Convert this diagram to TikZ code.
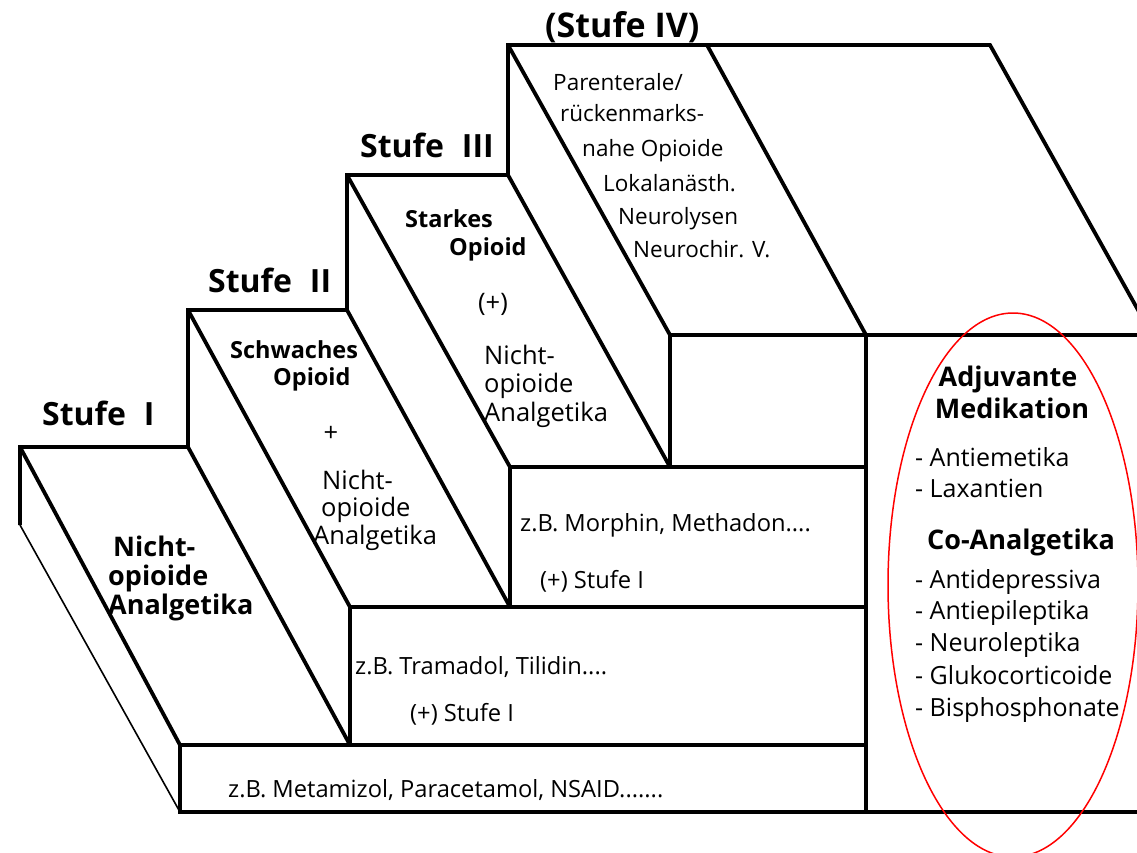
\documentclass[tikz,border=0pt]{standalone}
\usepackage{fontspec}
\setmainfont{Open Sans}
\begin{document}
\begin{tikzpicture}[x=1pt,y=-1pt,
  edge/.style={line width=3.8pt,line join=miter,line cap=butt},
  thinedge/.style={line width=1.6pt},
  head/.style={font=\fontsize{32}{36}\selectfont\bfseries,anchor=base west,inner sep=0pt},
  facebold/.style={font=\fontsize{23.5}{27}\selectfont\bfseries,anchor=base west,inner sep=0pt},
  facebig/.style={font=\fontsize{27}{31}\selectfont\bfseries,anchor=base west,inner sep=0pt},
  facetxt/.style={font=\fontsize{25.5}{29}\selectfont,anchor=base west,inner sep=0pt},
  steptxt/.style={font=\fontsize{22.5}{26}\selectfont,anchor=base west,inner sep=0pt},
  boxtxt/.style={font=\fontsize{23.7}{27}\selectfont,anchor=base west,inner sep=0pt},
  listtxt/.style={font=\fontsize{25}{29}\selectfont,anchor=base west,inner sep=0pt},
  listhead/.style={font=\fontsize{27}{31}\selectfont\bfseries,anchor=base,inner sep=0pt}]
\useasboundingbox (0,0) rectangle (1137,852);

% back profile of the staircase
\coordinate (B0) at (20,525);
\coordinate (L1) at (20,447);  \coordinate (R1) at (188,447);
\coordinate (L2) at (188,310); \coordinate (R2) at (347,310);
\coordinate (L3) at (347,175); \coordinate (R3) at (508,175);
\coordinate (L4) at (508,45);  \coordinate (R4) at (707,45);
\coordinate (T)  at (990,45);
% near profile
\coordinate (F0)  at (180,812);
\coordinate (L1f) at (180,745); \coordinate (R1f) at (350,745);
\coordinate (L2f) at (350,607); \coordinate (R2f) at (510,607);
\coordinate (L3f) at (510,467); \coordinate (R3f) at (670,467);
\coordinate (L4f) at (670,335); \coordinate (R4f) at (866,335);
\coordinate (Tf)  at (1152,335);
\coordinate (Rb)  at (866,812); \coordinate (Eb) at (1140,812);

\draw[edge] (B0) -- (L1) -- (R1) -- (L2) -- (R2) -- (L3) -- (R3) -- (L4) -- (T) -- (Tf);
\draw[thinedge] (B0) -- (F0);
\foreach \a/\b in {L1/L1f,R1/R1f,L2/L2f,R2/R2f,L3/L3f,R3/R3f,L4/L4f,R4/R4f}
  \draw[edge] (\a) -- (\b);
% front boxes
\draw[edge] (L1f) -- (F0) -- (Eb);
\draw[edge] (L1f) -- (R1f |- L1f) -- (Rb |- L1f);
\draw[edge] (R1f) -- (L2f) -- (Rb |- L2f);
\draw[edge] (R2f) -- (L3f) -- (Rb |- L3f);
\draw[edge] (R3f) -- (L4f) -- (Tf);
\draw[edge] (R4f) -- (Rb);

% step headings
\node[head] (h1) at (42,425) {Stufe\hspace{0.3em} I};
\node[head] (h2) at (208,292) {Stufe\hspace{0.3em} II};
\node[head] (h3) at (360,157) {Stufe\hspace{0.3em} III};
\node[head,font=\fontsize{34}{38}\selectfont\bfseries] (h4) at (545,37) {(Stufe IV)};

% step I
\node[facebig] (s1a) at (113,556) {Nicht-};
\node[facebig] (s1b) at (108,585) {opioide};
\node[facebig] (s1c) at (108,614) {Analgetika};
% step II
\node[facebold] (s2a) at (230,358) {Schwaches};
\node[facebold] (s2b) at (273,385) {Opioid};
\node[facetxt,anchor=center] (s2c) at (331,434) {+};
\node[facetxt] (s2d) at (322,489) {Nicht-};
\node[facetxt] (s2e) at (321,516) {opioide};
\node[facetxt] (s2f) at (313,544) {Analgetika};
% step III
\node[facebold] (s3a) at (405,227) {Starkes};
\node[facebold] (s3b) at (449,255) {Opioid};
\node[facetxt,anchor=center] (s3c) at (493,304) {(+)};
\node[facetxt] (s3d) at (484,364) {Nicht-};
\node[facetxt] (s3e) at (484,392) {opioide};
\node[facetxt] (s3f) at (484,421) {Analgetika};
% step IV
\node[steptxt] (s4a) at (553,90) {Parenterale/};
\node[steptxt] (s4b) at (560,121) {rückenmarks-};
\node[steptxt] (s4c) at (582,156) {nahe Opioide};
\node[steptxt] (s4d) at (603,191) {Lokalanästh.};
\node[steptxt] (s4e) at (618,224) {Neurolysen};
\node[steptxt] (s4f) at (633,257) {Neurochir. V.};

% front boxes
\node[boxtxt] (f3a) at (520,531) {z.B. Morphin, Methadon....};
\node[boxtxt] (f3b) at (540,588) {(+) Stufe I};
\node[boxtxt] (f2a) at (355,674) {z.B. Tramadol, Tilidin....};
\node[boxtxt] (f2b) at (410,721) {(+) Stufe I};
\node[boxtxt] (f1a) at (228,797) {z.B. Metamizol, Paracetamol, NSAID.......};

% adjuvant column
\node[listhead] (ad1) at (1008,386) {Adjuvante};
\node[listhead] (ad2) at (1012,418) {Medikation};
\node[listtxt] (ad3) at (915,466) {- Antiemetika};
\node[listtxt] (ad4) at (915,497) {- Laxantien};
\node[listhead] (co0) at (1021,549) {Co-Analgetika};
\node[listtxt] (co1) at (915,588) {- Antidepressiva};
\node[listtxt] (co2) at (915,619) {- Antiepileptika};
\node[listtxt] (co3) at (915,651) {- Neuroleptika};
\node[listtxt] (co4) at (915,684) {- Glukocorticoide};
\node[listtxt] (co5) at (915,716) {- Bisphosphonate};

% highlight
\draw[red,line width=1.5pt] (1013,585) ellipse [x radius=125,y radius=272];
\end{tikzpicture}
\end{document}
